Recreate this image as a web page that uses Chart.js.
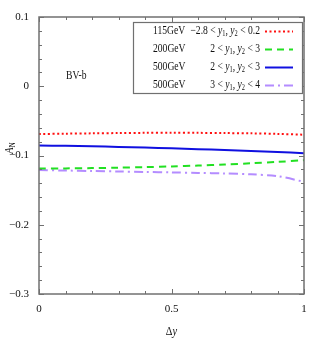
<!DOCTYPE html>
<html>
<head>
<meta charset="utf-8">
<script src="https://cdn.jsdelivr.net/npm/chart.js@4.4.0/dist/chart.umd.min.js"></script>
<style>
  html, body { margin: 0; padding: 0; background: #fff; }
  #wrap { width: 322px; height: 343px; }
</style>
</head>
<body>
<div id="wrap"><canvas id="canvas" width="322" height="343"></canvas></div>
<script>
// data
var dy = [0, 0.1, 0.2, 0.3, 0.4, 0.5, 0.6, 0.7, 0.8, 0.9, 1];
var an115 = [-0.0690, -0.0685, -0.0680, -0.0676, -0.0673, -0.0672, -0.0673, -0.0676, -0.0680, -0.0688, -0.0700];
var an200 = [-0.1188, -0.1186, -0.1182, -0.1176, -0.1168, -0.1158, -0.1145, -0.1130, -0.1112, -0.1092, -0.1068];
var an500a = [-0.0856, -0.0860, -0.0867, -0.0876, -0.0886, -0.0897, -0.0908, -0.0920, -0.0934, -0.0949, -0.0967];
var an500b = [-0.1210, -0.1217, -0.1224, -0.1231, -0.1237, -0.1244, -0.1251, -0.1259, -0.1272, -0.1298, -0.1380];
var yTicks = [0.1, 0, -0.1, -0.2, -0.3];
var xTicks = [0, 0.5, 1];
var energies = ['115GeV', '200GeV', '500GeV', '500GeV'];
var ranges = [['\u22122.8', '0.2'], ['2', '3'], ['2', '3'], ['3', '4']];

var serif = '"Liberation Serif", "DejaVu Serif", serif';
var SX = 0.8; // CM-like narrow text

function pts(ys) {
    return dy.map(function (x, i) { return {x: x, y: ys[i]}; });
}

function fmtY(v) {
    if (Math.abs(v) < 1e-9) return '0';
    return (v < 0 ? '\u2212' : '') + Math.abs(v).toFixed(1);
}
function fmtX(v) {
    return (v == 0 || v == 1) ? String(v) : v.toFixed(1);
}

// draw rich text [text, style] at (x,y), squeezed horizontally; align 'left' or 'right'
function rich(ctx, parts, x, y, align, size) {
    var fonts = {n: size + 'px ' + serif, i: 'italic ' + size + 'px ' + serif, s: Math.round(size * 0.7) + 'px ' + serif};
    var w = 0;
    parts.forEach(function (p) { ctx.font = fonts[p[1]]; w += ctx.measureText(p[0]).width; });
    w *= SX;
    var x0 = align == 'right' ? x - w : (align == 'center' ? x - w / 2 : x);
    ctx.save();
    ctx.translate(x0, y);
    ctx.scale(SX, 1);
    ctx.textAlign = 'left';
    var cx = 0;
    parts.forEach(function (p) {
        ctx.font = fonts[p[1]];
        ctx.fillText(p[0], cx, p[1] == 's' ? 3 : 0);
        cx += ctx.measureText(p[0]).width;
    });
    ctx.restore();
}

var framePlugin = {
    id: 'frame',
    afterDatasetsDraw: function (chart) {
        var ctx = chart.ctx, a = chart.chartArea;
        var xs = chart.scales.x, ys = chart.scales.y;
        ctx.save();
        ctx.strokeStyle = '#707070';
        ctx.lineWidth = 1.5;
        ctx.strokeRect(a.left, a.top, a.right - a.left, a.bottom - a.top);
        ctx.lineWidth = 1;
        ctx.beginPath();
        // x ticks every 0.1, major every 0.5
        for (var i = 0; i <= 10; i++) {
            var px = Math.round(xs.getPixelForValue(i / 10)) + 0.5;
            var len = (i % 5 == 0) ? 5 : 3;
            ctx.moveTo(px, a.bottom); ctx.lineTo(px, a.bottom - len);
            ctx.moveTo(px, a.top); ctx.lineTo(px, a.top + len);
        }
        // y ticks every 0.02, major every 0.1
        for (var j = 0; j <= 20; j++) {
            var py = Math.round(ys.getPixelForValue(-0.3 + j * 0.02)) + 0.5;
            var l2 = (j % 5 == 0) ? 5 : 3;
            ctx.moveTo(a.left, py); ctx.lineTo(a.left + l2, py);
            ctx.moveTo(a.right, py); ctx.lineTo(a.right - l2, py);
        }
        ctx.stroke();

        ctx.fillStyle = '#111';
        ctx.textBaseline = 'middle';
        // BV-b label
        rich(ctx, [['BV-b', 'n']], 66, 76, 'left', 12);

        // legend box
        var lx = 133, ly = 22, lw = 169, lh = 71;
        ctx.fillStyle = '#fff';
        ctx.fillRect(lx, ly, lw, lh);
        ctx.strokeStyle = '#707070';
        ctx.lineWidth = 1.2;
        ctx.strokeRect(lx + 0.5, ly + 0.5, lw, lh);
        var rows = [31, 49, 67, 85];
        chart.data.datasets.forEach(function (ds, k) {
            var y = rows[k];
            ctx.fillStyle = '#111';
            rich(ctx, [[energies[k], 'n']], 153, y, 'left', 12);
            rich(ctx, [
                [ranges[k][0] + ' < ', 'n'], ['y', 'i'], ['1', 's'], [', ', 'n'],
                ['y', 'i'], ['2', 's'], [' < ' + ranges[k][1], 'n']
            ], 260, y, 'right', 12);
            ctx.beginPath();
            ctx.strokeStyle = ds.borderColor;
            ctx.lineWidth = ds.borderWidth;
            ctx.setLineDash(ds.borderDash || []);
            ctx.moveTo(265, y + 0.5); ctx.lineTo(293, y + 0.5);
            ctx.stroke();
            ctx.setLineDash([]);
        });

        // axis titles
        ctx.fillStyle = '#111';
        rich(ctx, [['\u0394', 'n'], ['y', 'i']], (a.left + a.right) / 2, 332, 'center', 13);

        ctx.translate(10, 148);
        ctx.rotate(-Math.PI / 2);
        rich(ctx, [['A', 'i'], ['N', 's']], 0, 0, 'center', 13);
        ctx.restore();
    }
};

var chart = new Chart(document.getElementById('canvas').getContext('2d'), {
    type: 'line',
    data: {
        datasets: [
            {label: '115GeV', data: pts(an115), borderColor: '#ff1010', borderWidth: 2, borderDash: [2, 2.5]},
            {label: '200GeV', data: pts(an200), borderColor: '#22e022', borderWidth: 2, borderDash: [7, 5]},
            {label: '500GeV a', data: pts(an500a), borderColor: '#1010e0', borderWidth: 2},
            {label: '500GeV b', data: pts(an500b), borderColor: '#b48cff', borderWidth: 2, borderDash: [9, 4, 2, 4]}
        ]
    },
    options: {
        responsive: false,
        animation: false,
        events: [],
        layout: {padding: {top: 17, right: 18, left: 0, bottom: 0}},
        elements: {point: {radius: 0}, line: {tension: 0.3, fill: false}},
        plugins: {legend: {display: false}, tooltip: {enabled: false}},
        scales: {
            x: {
                type: 'linear', min: 0, max: 1,
                afterFit: function (s) { s.height = 49; },
                afterBuildTicks: function (s) { s.ticks = xTicks.map(function (v) { return {value: v}; }); },
                grid: {display: false, drawTicks: false},
                border: {display: false},
                ticks: {
                    padding: 9, color: '#111',
                    font: {family: serif, size: 11},
                    callback: function (v) { return fmtX(v); }
                }
            },
            y: {
                min: -0.3, max: 0.1,
                afterFit: function (s) { s.width = 39; },
                afterBuildTicks: function (s) { s.ticks = yTicks.map(function (v) { return {value: v}; }); },
                grid: {display: false, drawTicks: false},
                border: {display: false},
                ticks: {
                    padding: 10, color: '#111',
                    font: {family: serif, size: 11},
                    callback: function (v) { return fmtY(v); }
                }
            }
        }
    },
    plugins: [framePlugin]
});
</script>
</body>
</html>
